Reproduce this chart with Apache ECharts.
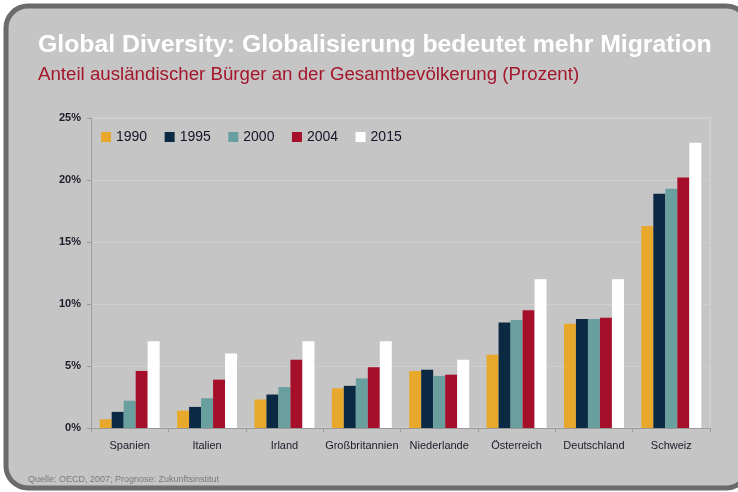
<!DOCTYPE html>
<html>
<head>
<meta charset="utf-8">
<script src="https://cdn.jsdelivr.net/npm/echarts@6/dist/echarts.min.js"></script>
<style>
  html, body { margin: 0; padding: 0; background: #fff; }
  #main { width: 738px; height: 492px; }
</style>
</head>
<body>
<div id="main"></div>
<script>
var countries = ['Spanien', 'Italien', 'Irland', 'Großbritannien', 'Niederlande', 'Österreich', 'Deutschland', 'Schweiz'];
var years = ['1990', '1995', '2000', '2004', '2015'];
var v1990 = [0.7, 1.4, 2.3, 3.2, 4.6, 5.9, 8.4, 16.3];
var v1995 = [1.3, 1.7, 2.7, 3.4, 4.7, 8.5, 8.8, 18.9];
var v2000 = [2.2, 2.4, 3.3, 4.0, 4.2, 8.7, 8.8, 19.3];
var v2004 = [4.6, 3.9, 5.5, 4.9, 4.3, 9.5, 8.9, 20.2];
var v2015 = [7.0, 6.0, 7.0, 7.0, 5.5, 12.0, 12.0, 23.0];
var yTicks = [0, 5, 10, 15, 20, 25];
var colors = ['#e8a82c', '#0c2944', '#69a09f', '#a50f29', '#ffffff'];

var chartDom = document.getElementById('main');
var myChart = echarts.init(chartDom, null, { renderer: 'canvas' });

var allValues = [v1990, v1995, v2000, v2004, v2015];
var series = years.map(function (y, i) {
  return {
    name: y,
    type: 'bar',
    data: allValues[i],
    barWidth: 12,
    barGap: '0%',
    itemStyle: { color: colors[i] }
  };
});

var option = {
  backgroundColor: '#ffffff',
  animation: false,
  textStyle: { fontFamily: 'Liberation Sans, Arial, sans-serif' },
  graphic: [
    {
      type: 'rect',
      z: -10,
      shape: { x: 6, y: 6, width: 742, height: 482, r: 22 },
      style: { fill: '#c5c5c5', stroke: '#6b6b6b', lineWidth: 5 }
    },
    {
      type: 'text', left: 38, top: 33,
      style: { text: 'Global Diversity: Globalisierung bedeutet mehr Migration', fill: '#ffffff',
        font: 'bold 24.8px "Liberation Sans", Arial, sans-serif' }
    },
    {
      type: 'text', left: 38, top: 65,
      style: { text: 'Anteil ausländischer Bürger an der Gesamtbevölkerung (Prozent)', fill: '#a3162b',
        font: '18.7px "Liberation Sans", Arial, sans-serif' }
    },
    {
      type: 'text', left: 28, top: 475,
      style: { text: 'Quelle: OECD, 2007; Prognose: Zukunftsinstitut', fill: '#7a7a7a',
        font: '9px "Liberation Sans", Arial, sans-serif' }
    }
  ],
  legend: {
    left: 96, top: 125,
    itemWidth: 10, itemHeight: 10, itemGap: 17.5,
    icon: 'rect',
    data: years,
    textStyle: { color: '#141428', fontSize: 14, fontFamily: 'Liberation Sans, Arial, sans-serif' }
  },
  grid: {
    left: 91, right: 28, top: 118, bottom: 64,
    show: true, borderColor: '#d6d6d6', borderWidth: 1, backgroundColor: 'transparent'
  },
  xAxis: {
    type: 'category',
    data: countries,
    axisLine: { lineStyle: { color: '#9a9a9a' } },
    axisTick: { show: true, lineStyle: { color: '#9a9a9a' }, length: 4 },
    axisLabel: { color: '#1c1c2a', fontSize: 11, margin: 12, interval: 0 }
  },
  yAxis: {
    type: 'value',
    min: yTicks[0], max: yTicks[yTicks.length - 1], interval: 5,
    axisLine: { show: true, lineStyle: { color: '#9a9a9a' } },
    axisTick: { show: true, lineStyle: { color: '#9a9a9a' }, length: 4 },
    axisLabel: { color: '#1c1c2a', fontSize: 11, fontWeight: 'bold', margin: 10,
      formatter: function (v) { return v + '%'; } },
    splitLine: { lineStyle: { color: '#cfcfcf' } }
  },
  series: series
};

myChart.setOption(option);
window.addEventListener('resize', function () { myChart.resize(); });
</script>
</body>
</html>
